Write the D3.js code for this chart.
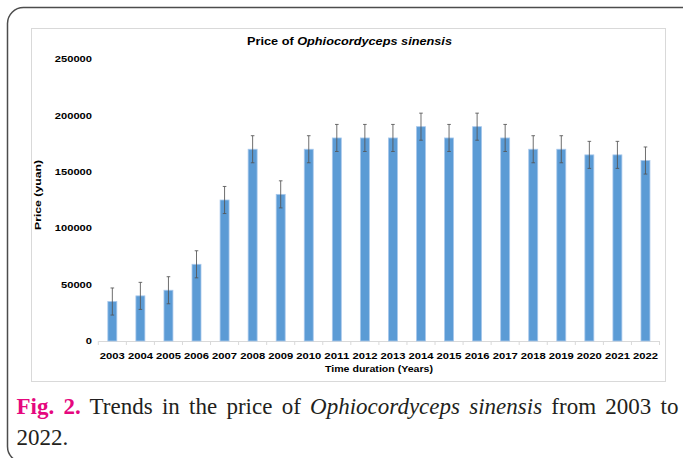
<!DOCTYPE html>
<html>
<head>
<meta charset="utf-8">
<script src="https://cdn.jsdelivr.net/npm/d3@7"></script>
<style>
  html, body { margin: 0; padding: 0; background: #fff; }
  svg { display: block; }
</style>
</head>
<body>
<svg id="chart" width="683" height="458"></svg>
<script>
const years = ["2003","2004","2005","2006","2007","2008","2009","2010","2011","2012",
               "2013","2014","2015","2016","2017","2018","2019","2020","2021","2022"];
const prices = [35000, 40000, 45000, 68000, 125000, 170000, 130000, 170000, 180000, 180000,
                180000, 190000, 180000, 190000, 180000, 170000, 170000, 165000, 165000, 160000];
const errors = [12000, 12000, 12000, 12000, 12000, 12000, 12000, 12000, 12000, 12000,
                12000, 12000, 12000, 12000, 12000, 12000, 12000, 12000, 12000, 12000];
const yTicks = [0, 50000, 100000, 150000, 200000, 250000];

const svg = d3.select("#chart");

// outer rounded frame
svg.append("rect")
  .attr("x", 7.5).attr("y", 7.5).attr("width", 690).attr("height", 455)
  .attr("rx", 16).attr("ry", 16)
  .attr("fill", "none").attr("stroke", "#4d4d4d").attr("stroke-width", 1.5);

// inner chart panel
svg.append("rect")
  .attr("x", 31.5).attr("y", 28.5).attr("width", 634).attr("height", 353)
  .attr("fill", "#fff").attr("stroke", "#d9d9d9").attr("stroke-width", 1);

const x = d3.scaleBand().domain(years).range([98.3, 659.5]).paddingInner(0.68).paddingOuter(0.34);
const y = d3.scaleLinear().domain([0, 250000]).range([341, 59]);

// x axis
const xAxis = svg.append("g").attr("transform", "translate(0,341)")
  .call(d3.axisBottom(x).tickSize(0).tickPadding(11));
xAxis.select(".domain").attr("stroke", "#d9d9d9");
const step = x.step();
const bounds = d3.range(years.length + 1).map(i => 98.3 + i * step);
xAxis.selectAll("line.bt").data(bounds).join("line").attr("class", "bt")
  .attr("x1", d => d).attr("x2", d => d).attr("y1", 0).attr("y2", 4)
  .attr("stroke", "#d9d9d9");
xAxis.selectAll(".tick text")
  .attr("font-family", "Liberation Sans, Arial, sans-serif")
  .attr("font-weight", "bold").attr("font-size", 9.5).attr("fill", "#000")
  .attr("textLength", 25).attr("lengthAdjust", "spacingAndGlyphs");

// y axis
const yAxis = svg.append("g").attr("transform", "translate(98,0)")
  .call(d3.axisLeft(y).tickValues(yTicks).tickFormat(d3.format("d")).tickSize(0).tickPadding(6));
yAxis.select(".domain").remove();
yAxis.selectAll(".tick text")
  .attr("font-family", "Liberation Sans, Arial, sans-serif")
  .attr("font-weight", "bold").attr("font-size", 8.5).attr("fill", "#000")
  .attr("textLength", d => String(d).length * 6.2).attr("lengthAdjust", "spacingAndGlyphs");

// bars
svg.append("g").selectAll("rect").data(years).join("rect")
  .attr("x", d => x(d)).attr("width", x.bandwidth())
  .attr("y", (d, i) => y(prices[i])).attr("height", (d, i) => y(0) - y(prices[i]))
  .attr("fill", "#5b9bd5").attr("stroke", "#a8c8ec").attr("stroke-width", 0.8);

// error bars
const eg = svg.append("g").attr("stroke", "#555").attr("stroke-width", 1).attr("stroke-opacity", 0.85);
years.forEach((d, i) => {
  const cx = x(d) + x.bandwidth() / 2;
  const top = y(prices[i] + errors[i]), bot = y(prices[i] - errors[i]);
  eg.append("line").attr("x1", cx).attr("x2", cx).attr("y1", top).attr("y2", bot);
  eg.append("line").attr("x1", cx - 1.8).attr("x2", cx + 1.8).attr("y1", top).attr("y2", top);
  eg.append("line").attr("x1", cx - 1.8).attr("x2", cx + 1.8).attr("y1", bot).attr("y2", bot);
});

// title
const title = svg.append("text").attr("x", 349.5).attr("y", 45)
  .attr("text-anchor", "middle")
  .attr("font-family", "Liberation Sans, Arial, sans-serif")
  .attr("font-weight", "bold").attr("font-size", 10).attr("fill", "#000")
  .attr("textLength", 205).attr("lengthAdjust", "spacingAndGlyphs");
title.append("tspan").text("Price of ");
title.append("tspan").attr("font-style", "italic").text("Ophiocordyceps sinensis");

// axis titles
svg.append("text").attr("transform", "translate(41,195) rotate(-90)")
  .attr("text-anchor", "middle")
  .attr("font-family", "Liberation Sans, Arial, sans-serif")
  .attr("font-weight", "bold").attr("font-size", 8.5).attr("fill", "#000")
  .attr("textLength", 70).attr("lengthAdjust", "spacingAndGlyphs")
  .text("Price (yuan)");
svg.append("text").attr("x", 379).attr("y", 372)
  .attr("text-anchor", "middle")
  .attr("font-family", "Liberation Sans, Arial, sans-serif")
  .attr("font-weight", "bold").attr("font-size", 8.5).attr("fill", "#000")
  .attr("textLength", 108).attr("lengthAdjust", "spacingAndGlyphs")
  .text("Time duration (Years)");

// caption
const cap = svg.append("text").attr("x", 16.5).attr("y", 414)
  .attr("font-family", "Liberation Serif, Times New Roman, serif")
  .attr("font-size", 23).attr("fill", "#231f20");
cap.append("tspan").attr("font-weight", "bold").attr("fill", "#e5087e").text("Fig. 2.");
cap.append("tspan").text(" Trends in the price of ");
cap.append("tspan").attr("font-style", "italic").text("Ophiocordyceps sinensis");
cap.append("tspan").text(" from 2003 to");
const w = cap.node().getComputedTextLength();
const nSpaces = 10;
const extra = Math.max(0, (675 - 16.5 - w) / nSpaces);
cap.attr("word-spacing", extra);

svg.append("text").attr("x", 16.5).attr("y", 445)
  .attr("font-family", "Liberation Serif, Times New Roman, serif")
  .attr("font-size", 23).attr("fill", "#231f20")
  .text("2022.");
</script>
</body>
</html>
